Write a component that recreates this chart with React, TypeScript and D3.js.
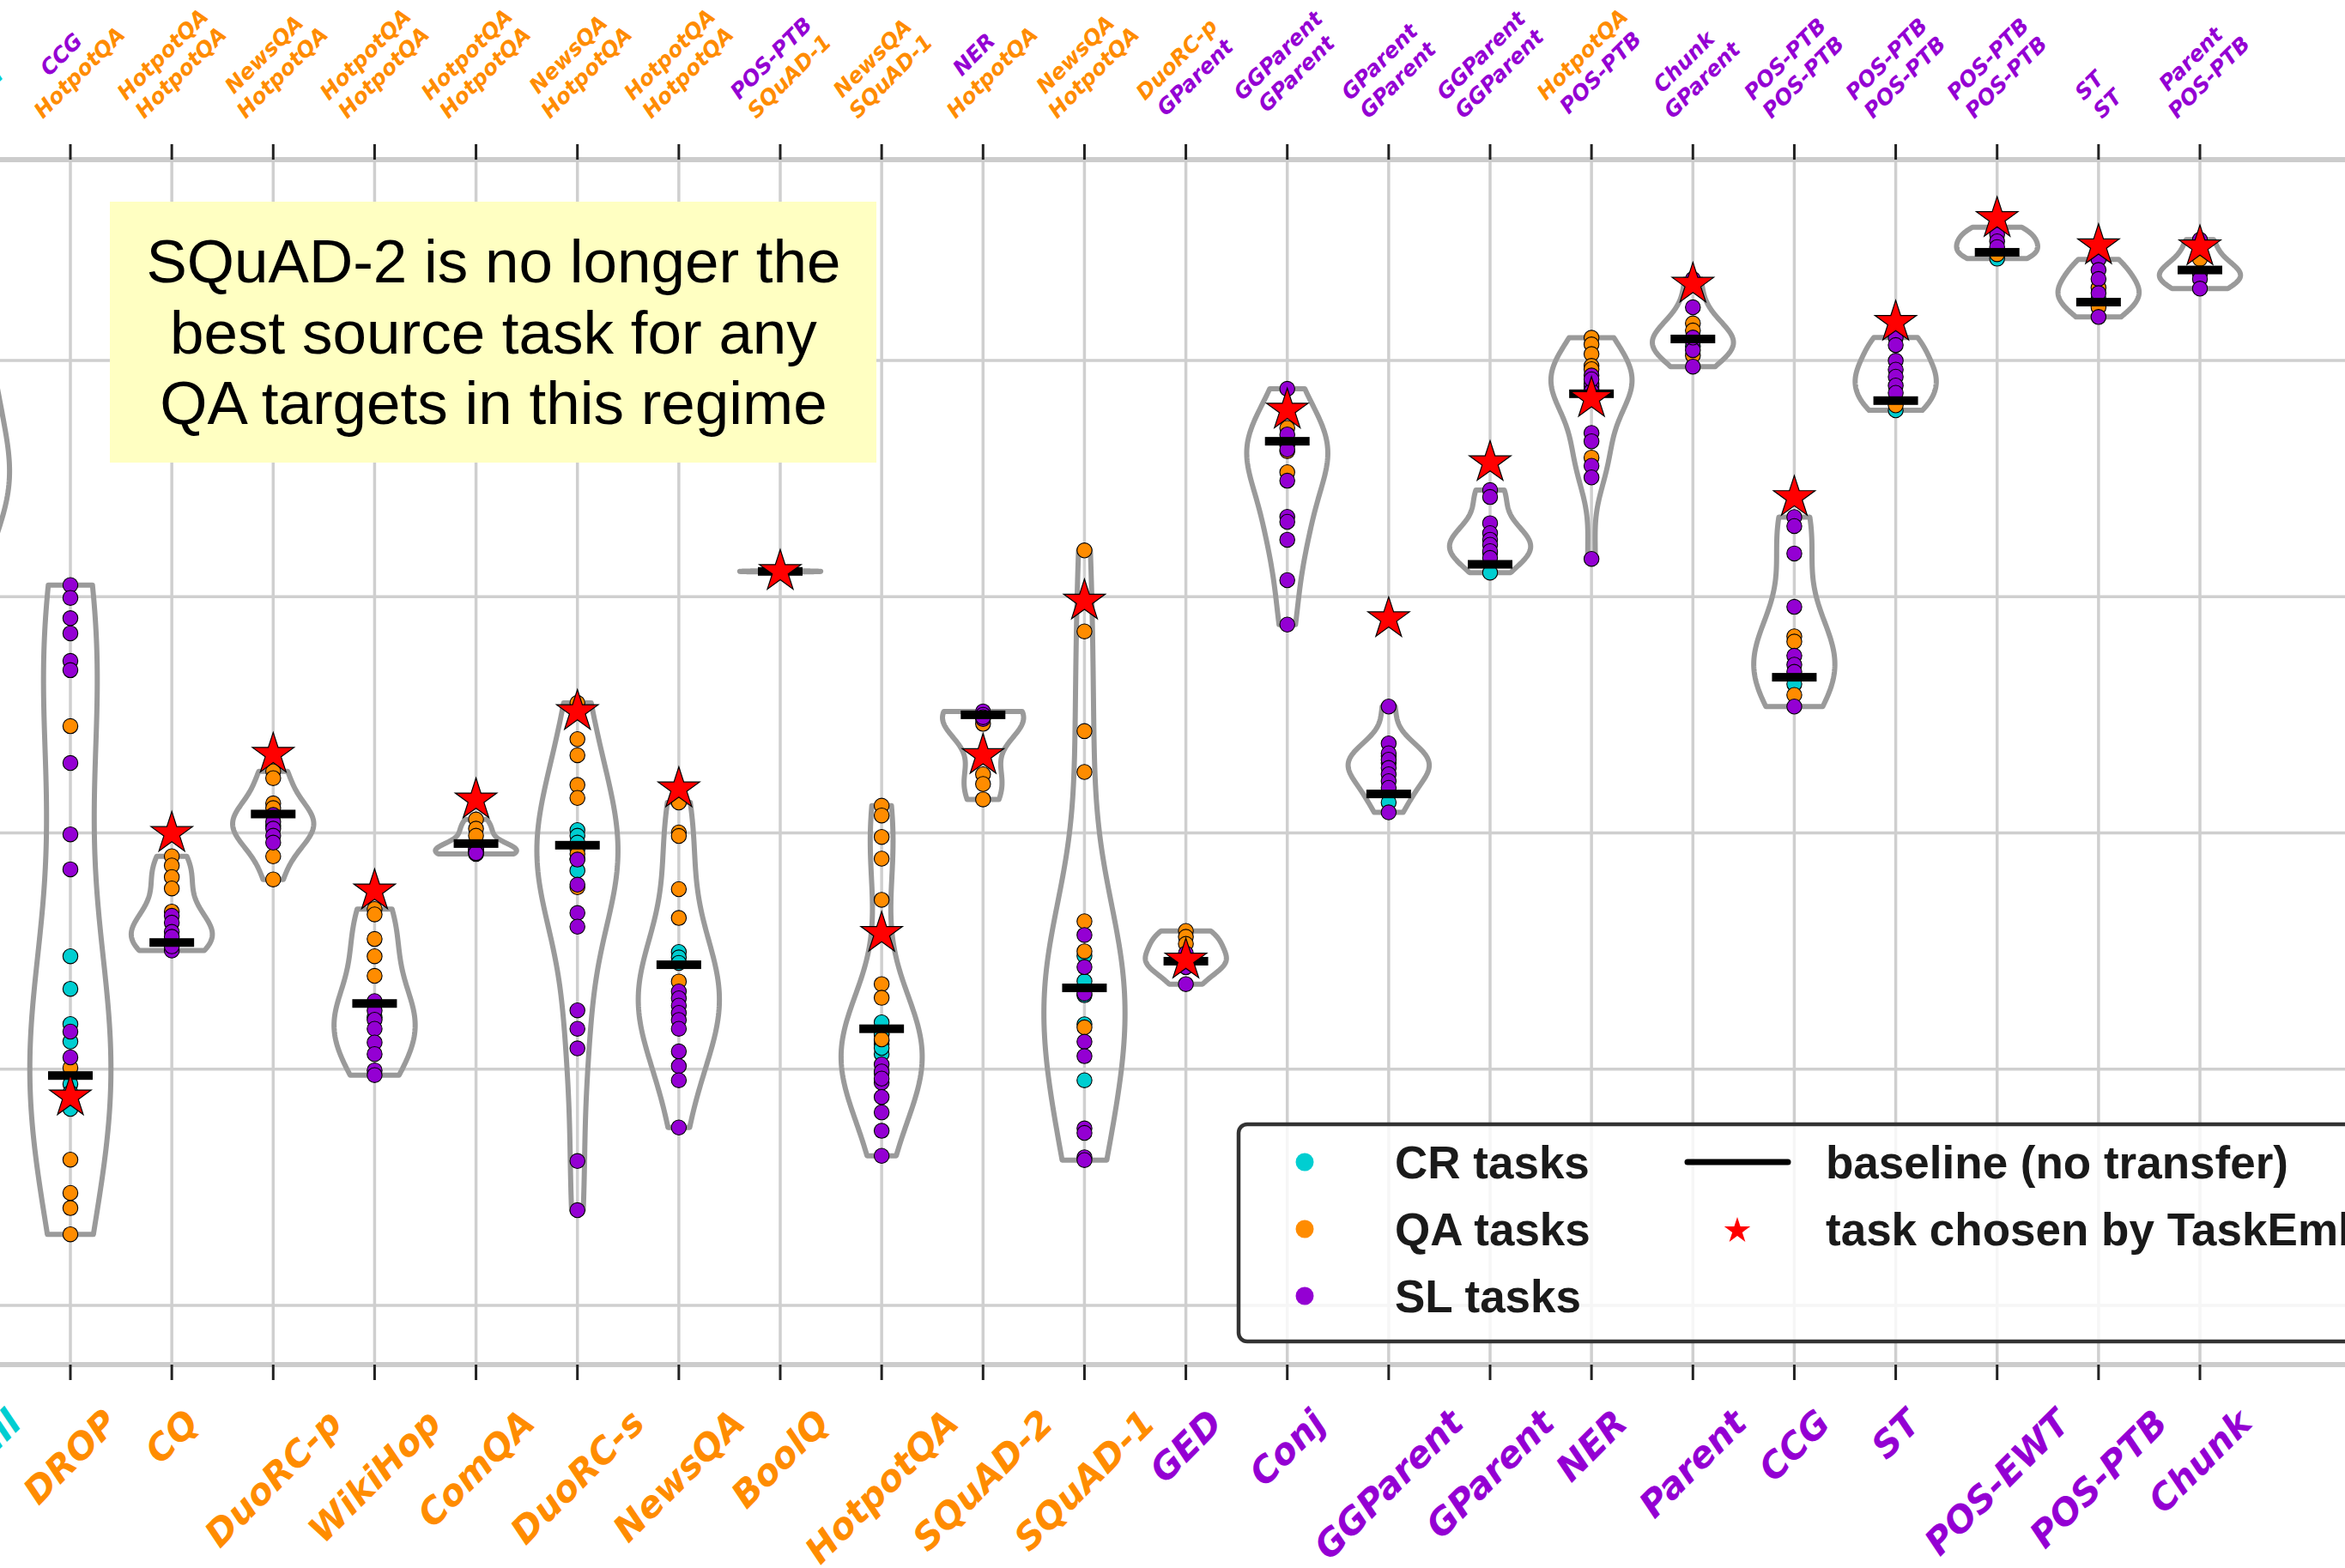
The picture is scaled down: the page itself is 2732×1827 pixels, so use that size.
import React, { useRef, useEffect } from 'react';
import * as d3 from 'd3';

// target tasks (x axis); SciTail is only partly in view on the left
const categories = ['SciTail', 'DROP', 'CQ', 'DuoRC-p', 'WikiHop', 'ComQA', 'DuoRC-s', 'NewsQA', 'BoolQ',
  'HotpotQA', 'SQuAD-2', 'SQuAD-1', 'GED', 'Conj', 'GGParent', 'GParent', 'NER', 'Parent', 'CCG', 'ST',
  'POS-EWT', 'POS-PTB', 'Chunk'];

const qaTasks = ['DROP', 'CQ', 'DuoRC-p', 'WikiHop', 'ComQA', 'DuoRC-s', 'NewsQA', 'BoolQ', 'HotpotQA', 'SQuAD-2', 'SQuAD-1'];
const slTasks = ['GED', 'Conj', 'GGParent', 'GParent', 'NER', 'Parent', 'CCG', 'ST', 'POS-EWT', 'POS-PTB', 'Chunk'];

// labels on the top axis (two lines per target)
const topFirst = ['SNLI', 'CCG', 'HotpotQA', 'NewsQA', 'HotpotQA', 'HotpotQA', 'NewsQA', 'HotpotQA', 'POS-PTB',
  'NewsQA', 'NER', 'NewsQA', 'DuoRC-p', 'GGParent', 'GParent', 'GGParent', 'HotpotQA', 'Chunk', 'POS-PTB',
  'POS-PTB', 'POS-PTB', 'ST', 'Parent'];
const topSecond = ['MNLI', 'HotpotQA', 'HotpotQA', 'HotpotQA', 'HotpotQA', 'HotpotQA', 'HotpotQA', 'HotpotQA', 'SQuAD-1',
  'SQuAD-1', 'HotpotQA', 'HotpotQA', 'GParent', 'GParent', 'GParent', 'GGParent', 'POS-PTB', 'GParent', 'POS-PTB',
  'POS-PTB', 'POS-PTB', 'ST', 'POS-PTB'];

const baselines = [34.5, 9.73, 15.36, 20.8, 12.78, 19.55, 19.48, 14.42, 31.07, 11.71, 25.0, 13.44, 14.57,
  36.58, 21.65, 31.37, 38.59, 40.91, 26.59, 38.3, 44.58, 42.47, 43.83];
const chosen = [36.0, 8.83, 19.98, 23.33, 17.55, 21.4, 25.14, 21.87, 31.07, 15.75, 23.28, 29.82, 14.62,
  37.9, 29.07, 35.68, 38.39, 43.23, 34.2, 41.62, 46.01, 44.86, 44.81];

const crDots = [
  [41.0, 40.2, 39.8, 39.2, 38.6, 37.8, 37.0, 36.2, 35.6, 35.2, 34.9, 34.6, 34.2, 33.6, 32.8],
  [14.78, 13.4, 11.91, 11.17, 9.37, 8.32, 9.0],
  [15.3],
  [20.3],
  [12.2],
  [19.25],
  [20.12, 19.88, 19.59, 19.3, 18.9, 18.41],
  [14.96, 14.73, 14.5],
  [31.07],
  [11.98, 11.46, 11.05, 10.64, 11.5, 11.2, 10.9],
  [24.95],
  [14.8, 13.72, 13.13, 11.9, 9.53],
  [14.4],
  [36.4],
  [21.29],
  [31.02],
  [38.6, 38.9, 38.8],
  [40.6],
  [26.3],
  [37.89],
  [44.31],
  [42.6],
  [43.7],
];
const qaDots = [
  [31.5, 29.0, 25.5],
  [24.52, 10.06, 6.17, 4.76, 4.12, 3.01],
  [19.01, 18.62, 18.13, 17.65, 16.67],
  [22.61, 22.32, 21.25, 21.05, 19.01, 18.03],
  [16.78, 16.55, 15.51, 14.78, 13.95],
  [20.57, 20.18, 19.88],
  [25.5, 23.97, 23.29, 22.03, 21.48, 19.11, 17.7],
  [21.29, 20.02, 19.87, 17.62, 16.4, 13.71],
  [31.07],
  [21.15, 20.74, 19.83, 18.91, 17.17, 13.6, 13.02, 11.26],
  [24.62, 22.48, 22.07, 21.42],
  [31.96, 28.53, 24.31, 22.58, 16.26, 14.99, 11.77],
  [15.85, 15.6, 15.3],
  [37.14, 36.16, 35.27, 36.5],
  [23.25, 22.96],
  [31.86],
  [40.96, 40.68, 40.27, 39.77, 39.63, 35.89],
  [41.57, 41.27, 40.21],
  [28.32, 28.1, 25.84],
  [38.1],
  [44.5],
  [43.08, 42.25],
  [44.3],
];
const slDots = [
  [36.5, 35.0, 33.0],
  [30.49, 29.95, 29.09, 28.45, 27.28, 26.89, 22.96, 19.94, 18.46, 11.59, 10.5],
  [16.49, 16.2, 15.81, 15.41, 15.02, 15.2, 15.6],
  [20.76, 20.47, 20.18, 19.88, 19.59],
  [12.88, 12.48, 12.09, 11.71, 11.13, 10.64, 9.95, 9.75],
  [19.3, 19.11, 19.2, 19.35, 19.15],
  [18.87, 17.81, 16.61, 16.03, 12.49, 11.71, 10.88, 6.11, 4.03],
  [13.29, 13.0, 12.69, 12.38, 12.08, 11.71, 10.75, 10.13, 9.53, 7.53],
  [31.05, 31.09],
  [9.84, 9.43, 8.82, 8.17, 7.39, 6.33, 10.2, 9.9, 9.6],
  [25.14, 24.82, 25.0, 24.9],
  [15.68, 14.32, 13.2, 11.16, 10.55, 7.49, 7.3, 6.27, 6.15],
  [14.9, 14.6, 14.32, 13.6],
  [38.8, 36.87, 36.23, 34.91, 33.38, 33.17, 32.41, 30.7, 28.82],
  [25.35, 23.79, 23.37, 23.1, 22.75, 22.48, 22.19, 21.91, 20.87],
  [34.51, 34.22, 33.11, 32.69, 32.41, 32.2, 31.93, 31.64],
  [39.36, 39.01, 38.4, 38.7, 39.2, 36.93, 36.58, 35.54, 35.05, 31.6],
  [43.45, 42.25, 40.82, 40.44, 39.74, 40.97],
  [33.37, 32.99, 31.83, 29.57, 27.5, 27.12, 26.82, 25.35],
  [40.97, 40.65, 39.99, 39.61, 39.31, 38.94, 38.63],
  [45.64, 45.33, 45.04, 44.8],
  [44.28, 43.83, 43.45, 42.85, 41.84],
  [45.11, 43.68, 43.45, 43.04],
];

const yTicks = [0, 10, 20, 30, 40];

const typeColor = { CR: '#00CED1', QA: '#FF8C00', SL: '#9400D3' };
const taskColor = (t: string) =>
  qaTasks.includes(t) ? typeColor.QA : slTasks.includes(t) ? typeColor.SL : typeColor.CR;

const starPath = (r: number) => {
  const pts: [number, number][] = [];
  for (let k = 0; k < 10; k++) {
    const a = -Math.PI / 2 + (k * Math.PI) / 5;
    const rr = k % 2 === 0 ? r : r * 0.382;
    pts.push([rr * Math.cos(a), rr * Math.sin(a)]);
  }
  return 'M' + pts.map(p => p.join(',')).join('L') + 'Z';
};

// gaussian kde (scott's rule), evaluated between min and max like matplotlib's violinplot
const kde = (vals: number[]) => {
  const n = vals.length;
  const lo = d3.min(vals) as number;
  const hi = d3.max(vals) as number;
  const sd = n > 1 ? (d3.deviation(vals) as number) : 1;
  const bw = Math.max(sd, 1e-6) * Math.pow(n, -0.2);
  const pts = d3.range(100).map(k => lo + ((hi - lo) * k) / 99);
  const dens = pts.map(p => d3.sum(vals, v => Math.exp(-0.5 * ((p - v) / bw) ** 2)));
  const mx = d3.max(dens) as number;
  return pts.map((p, k) => [p, dens[k] / mx] as [number, number]);
};

const W = 2732;
const H = 1827;

const ViolinChart = () => {
  const svgRef = useRef<SVGSVGElement>(null);

  useEffect(() => {
    if (!svgRef.current) return;
    const svg = d3.select(svgRef.current);
    svg.selectAll('*').remove();

    const xScale = d3.scaleLinear().domain([1, 22]).range([82, 2563]);
    const yScale = d3.scaleLinear().domain([0, 40]).range([1521, 420]);
    const top = 186;
    const bottom = 1590;
    const halfW = 0.4 * (xScale(2) - xScale(1));

    // grid
    const grid = svg.append('g');
    grid.selectAll('.vg').data(categories).enter().append('line')
      .attr('x1', (d, i) => xScale(i)).attr('x2', (d, i) => xScale(i))
      .attr('y1', top).attr('y2', bottom)
      .attr('stroke', '#cfcfcf').attr('stroke-width', 3.5);
    grid.selectAll('.hg').data(yTicks).enter().append('line')
      .attr('x1', 0).attr('x2', W)
      .attr('y1', d => yScale(d)).attr('y2', d => yScale(d))
      .attr('stroke', '#cfcfcf').attr('stroke-width', 3.5);
    [top, bottom].forEach(y => {
      grid.append('line').attr('x1', 0).attr('x2', W).attr('y1', y).attr('y2', y)
        .attr('stroke', '#cccccc').attr('stroke-width', 6);
    });
    grid.selectAll('.tk').data(categories).enter().append('path')
      .attr('d', (d, i) => `M${xScale(i)},${top - 18}V${top}M${xScale(i)},${bottom}V${bottom + 18}`)
      .attr('stroke', '#222').attr('stroke-width', 3);

    // violins
    const area = d3.area<[number, number]>()
      .y(d => yScale(d[0]))
      .curve(d3.curveLinear);
    categories.forEach((c, i) => {
      const vals = [...crDots[i], ...qaDots[i], ...slDots[i]];
      const cx = xScale(i);
      const prof = kde(vals);
      svg.append('path')
        .attr('d', area.x0(d => cx - halfW * d[1]).x1(d => cx + halfW * d[1])(prof))
        .attr('fill', 'none').attr('stroke', '#9a9a9a').attr('stroke-width', 6)
        .attr('stroke-linejoin', 'round');
    });

    // dots
    const dotG = svg.append('g');
    const groups: [number[][], string][] = [[crDots, typeColor.CR], [qaDots, typeColor.QA], [slDots, typeColor.SL]];
    groups.forEach(([arr, col]) => {
      arr.forEach((vals, i) => {
        dotG.selectAll(null).data(vals).enter().append('circle')
          .attr('cx', xScale(i)).attr('cy', d => yScale(d)).attr('r', 8.7)
          .attr('fill', col).attr('stroke', '#000').attr('stroke-width', 1.1);
      });
    });

    // baselines
    svg.append('g').selectAll('rect').data(baselines).enter().append('rect')
      .attr('x', (d, i) => xScale(i) - 26).attr('y', d => yScale(d) - 5)
      .attr('width', 52).attr('height', 10).attr('fill', '#000');

    // TaskEmb choice
    svg.append('g').selectAll('path').data(chosen).enter().append('path')
      .attr('d', starPath(25.5))
      .attr('transform', (d, i) => `translate(${xScale(i)},${yScale(d)})`)
      .attr('fill', '#ff0000').attr('stroke', '#000').attr('stroke-width', 1.2);

    // note box
    svg.append('rect').attr('x', 128).attr('y', 235).attr('width', 893).attr('height', 304)
      .attr('fill', '#ffffc2');
    const note = ['SQuAD-2 is no longer the', 'best source task for any', 'QA targets in this regime'];
    svg.append('g').selectAll('text').data(note).enter().append('text')
      .attr('x', 575).attr('y', (d, k) => 329 + k * 82.5)
      .attr('text-anchor', 'middle')
      .style('font-family', '"Liberation Sans", Arial, sans-serif').style('font-size', '71px')
      .attr('fill', '#000').text(d => d);

    // legend
    const lg = svg.append('g');
    lg.append('rect').attr('x', 1443).attr('y', 1310).attr('width', 1400).attr('height', 253).attr('rx', 10)
      .attr('fill', 'white').attr('fill-opacity', 0.8).attr('stroke', '#333').attr('stroke-width', 4.5);
    const legRows = [['CR tasks', typeColor.CR], ['QA tasks', typeColor.QA], ['SL tasks', typeColor.SL]];
    const legFont = (s: d3.Selection<SVGTextElement, unknown, null, undefined>) =>
      s.style('font-family', '"Liberation Sans", Arial, sans-serif').style('font-weight', 'bold')
        .style('font-size', '53px').attr('fill', '#1a1a1a');
    legRows.forEach(([t, col], k) => {
      const cy = 1354 + k * 78;
      lg.append('circle').attr('cx', 1520).attr('cy', cy).attr('r', 10.5).attr('fill', col);
      legFont(lg.append('text').attr('x', 1625).attr('y', cy + 19).text(t));
    });
    lg.append('line').attr('x1', 1966).attr('x2', 2083).attr('y1', 1354).attr('y2', 1354)
      .attr('stroke', '#000').attr('stroke-width', 7).attr('stroke-linecap', 'round');
    legFont(lg.append('text').attr('x', 2127).attr('y', 1373).text('baseline (no transfer)'));
    lg.append('path').attr('d', starPath(16)).attr('transform', 'translate(2024,1434)').attr('fill', '#ff0000');
    legFont(lg.append('text').attr('x', 2127).attr('y', 1451).text('task chosen by TaskEmb'));

    // rotated tick labels, bounding box centred on the tick
    const ctx = document.createElement('canvas').getContext('2d') as CanvasRenderingContext2D;
    const label = (lines: string[], colors: string[], cx: number, edge: number, fs: number, below: boolean) => {
      ctx.font = `italic bold ${fs}px "DejaVu Sans"`;
      const ls = fs * 1.2;
      const L = Math.max(...lines.map(t => ctx.measureText(t).width));
      const T = (lines.length - 1) * ls + 1.1 * fs;
      const side = (L + T) * Math.SQRT1_2;
      const cy = below ? edge + side / 2 : edge - side / 2;
      const g = svg.append('g').attr('transform', `translate(${cx},${cy}) rotate(-45)`);
      lines.forEach((s, k) => {
        g.append('text').attr('x', 0).attr('y', (k - (lines.length - 1) / 2) * ls)
          .attr('text-anchor', 'middle').attr('dominant-baseline', 'central')
          .style('font-family', '"DejaVu Sans", sans-serif').style('font-style', 'italic')
          .style('font-weight', 'bold').style('font-size', `${fs}px`)
          .attr('fill', colors[k]).text(s);
      });
    };
    categories.forEach((c, i) => {
      label([c], [taskColor(c)], xScale(i), 1634, 42, true);
      label([topFirst[i], topSecond[i]], [taskColor(topFirst[i]), taskColor(topSecond[i])], xScale(i), 143, 25, false);
    });
  }, []);

  return (
    <svg ref={svgRef} width={W} height={H}
      style={{ position: 'absolute', left: 0, top: 0, background: 'white' }}></svg>
  );
};

export default function App() {
  return <ViolinChart />;
}
